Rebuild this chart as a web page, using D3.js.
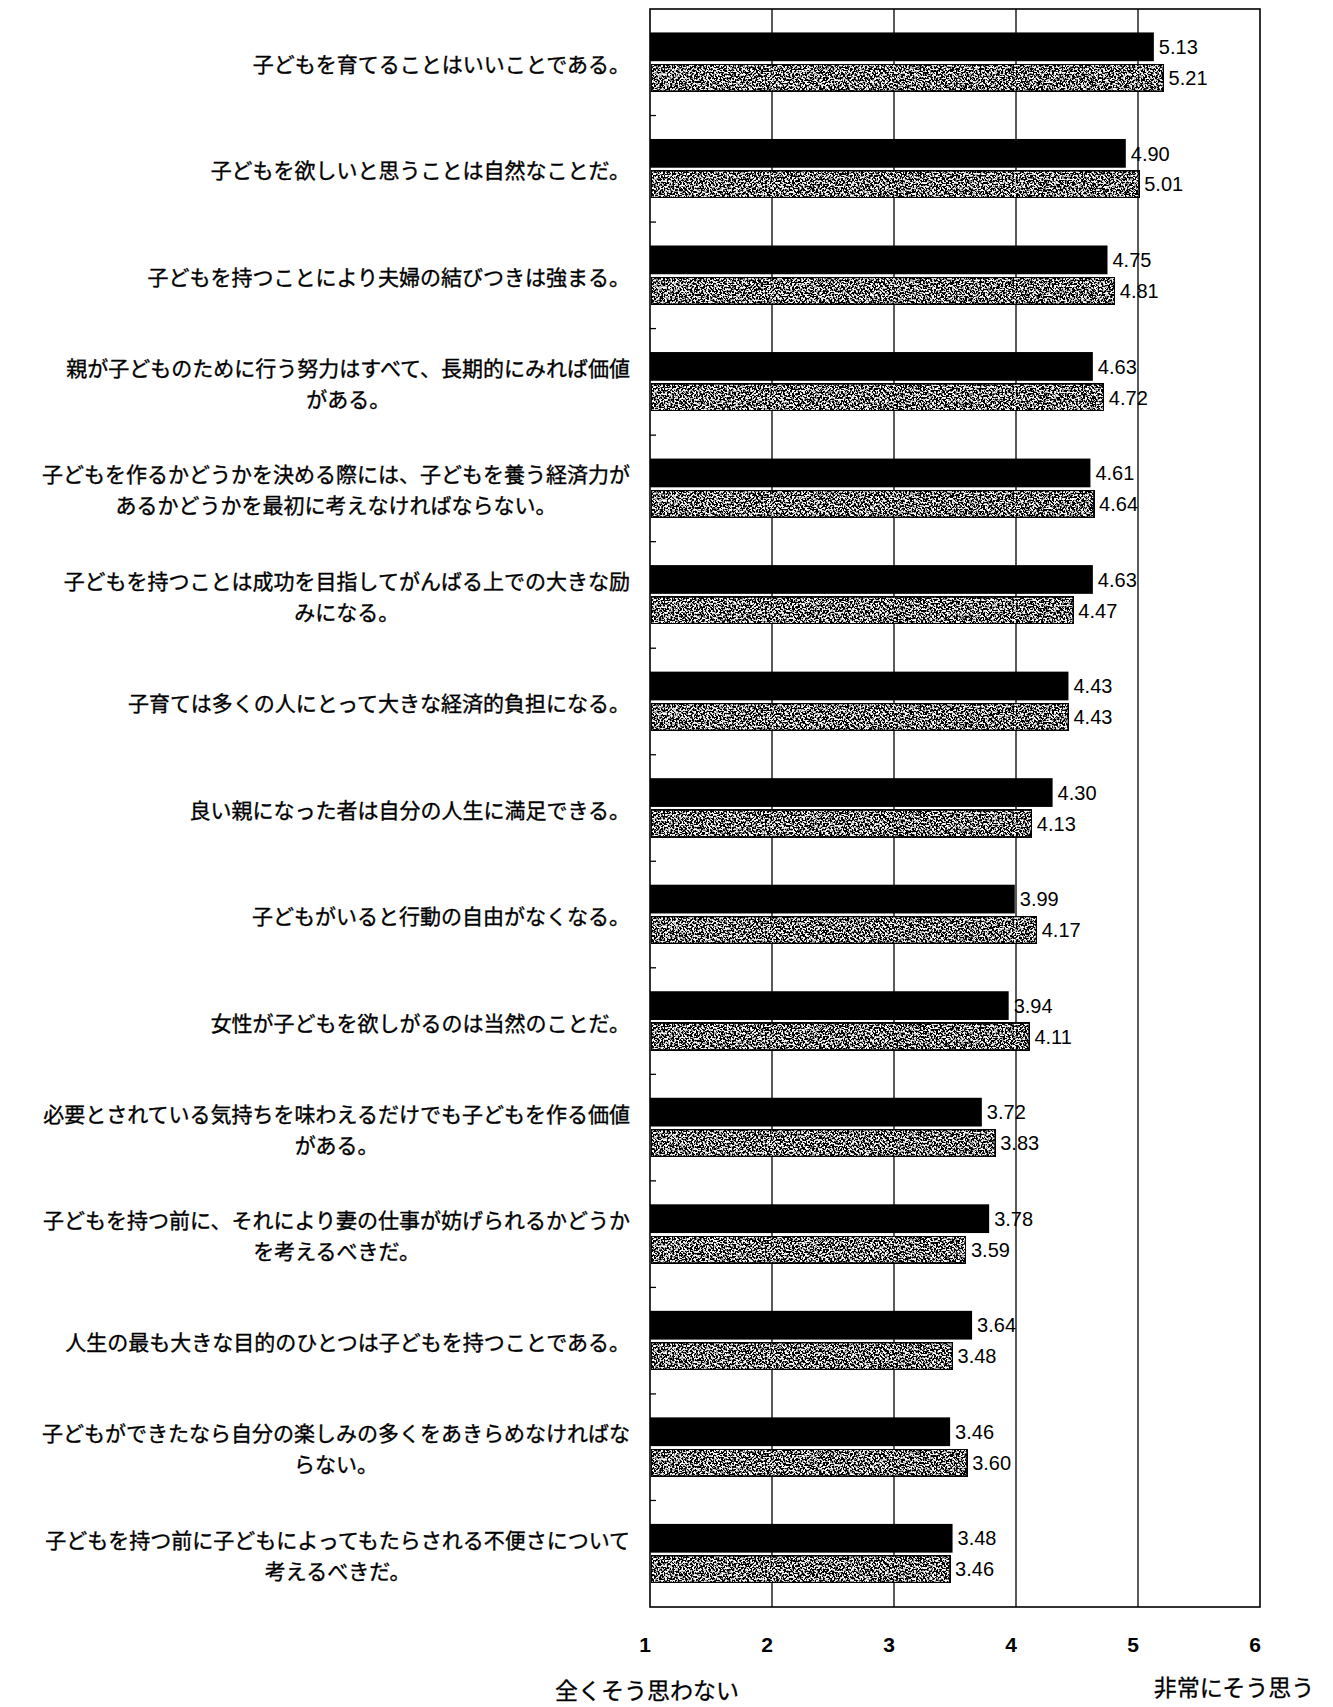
<!DOCTYPE html>
<html>
<head>
<meta charset="utf-8">
<script src="https://cdn.jsdelivr.net/npm/d3@7"></script>
<style>
  body { margin: 0; background: #fff; }
  svg { display: block; }
</style>
</head>
<body>
<div id="chart-area"></div>
<script>
// question texts (\n = line break as in the original)
var questions = [
  "子どもを育てることはいいことである。",
  "子どもを欲しいと思うことは自然なことだ。",
  "子どもを持つことにより夫婦の結びつきは強まる。",
  "親が子どものために行う努力はすべて、長期的にみれば価値\nがある。",
  "子どもを作るかどうかを決める際には、子どもを養う経済力が\nあるかどうかを最初に考えなければならない。",
  "子どもを持つことは成功を目指してがんばる上での大きな励\nみになる。",
  "子育ては多くの人にとって大きな経済的負担になる。",
  "良い親になった者は自分の人生に満足できる。",
  "子どもがいると行動の自由がなくなる。",
  "女性が子どもを欲しがるのは当然のことだ。",
  "必要とされている気持ちを味わえるだけでも子どもを作る価値\nがある。",
  "子どもを持つ前に、それにより妻の仕事が妨げられるかどうか\nを考えるべきだ。",
  "人生の最も大きな目的のひとつは子どもを持つことである。",
  "子どもができたなら自分の楽しみの多くをあきらめなければな\nらない。",
  "子どもを持つ前に子どもによってもたらされる不便さについて\n考えるべきだ。"
];
var seriesA = [5.13, 4.90, 4.75, 4.63, 4.61, 4.63, 4.43, 4.30, 3.99, 3.94, 3.72, 3.78, 3.64, 3.46, 3.48];
var seriesB = [5.21, 5.01, 4.81, 4.72, 4.64, 4.47, 4.43, 4.13, 4.17, 4.11, 3.83, 3.59, 3.48, 3.60, 3.46];
var seriesKeys = ["a", "b"];
var ticks = [1, 2, 3, 4, 5, 6];
var leftTitle = "全くそう思わない";
var rightTitle = "非常にそう思う";

var W = 1333, H = 1707;
var plotL = 650, plotR = 1260, plotT = 9, plotB = 1607;

var svg = d3.select("#chart-area").append("svg")
    .attr("width", W)
    .attr("height", H);

// speckled fill for the second series
var defs = svg.append("defs");
var f = defs.append("filter").attr("id", "speckle")
    .attr("x", 0).attr("y", 0).attr("width", 1).attr("height", 1);
f.append("feTurbulence").attr("type", "fractalNoise")
    .attr("baseFrequency", 0.55).attr("numOctaves", 2).attr("seed", 7).attr("result", "n");
f.append("feColorMatrix").attr("in", "n").attr("type", "matrix")
    .attr("values", "0 0 0 0 0  0 0 0 0 0  0 0 0 0 0  7 0 0 0 -2.7").attr("result", "dots");
f.append("feComposite").attr("in", "dots").attr("in2", "SourceGraphic")
    .attr("operator", "in").attr("result", "clipped");
var m = f.append("feMerge");
m.append("feMergeNode").attr("in", "SourceGraphic");
m.append("feMergeNode").attr("in", "clipped");

var data = questions.map(function(q, i) {
    return {q: q, a: seriesA[i], b: seriesB[i]};
});

var x = d3.scaleLinear().domain([1, 6]).range([plotL, plotR]);
var y = d3.scaleBand().domain(d3.range(questions.length))
    .range([plotT, plotB]).paddingInner(0.44).paddingOuter(0.22);
var y1 = d3.scaleBand().domain(seriesKeys).range([0, y.bandwidth()]).paddingInner(0.07);

// vertical gridlines
svg.append("g").selectAll("line")
    .data(ticks.slice(1, -1))
    .enter().append("line")
    .attr("x1", d => x(d)).attr("x2", d => x(d))
    .attr("y1", plotT).attr("y2", plotB)
    .attr("stroke", "#000").attr("stroke-width", 1.3);

// frame
svg.append("rect")
    .attr("x", plotL).attr("y", plotT)
    .attr("width", plotR - plotL).attr("height", plotB - plotT)
    .attr("fill", "none").attr("stroke", "#000").attr("stroke-width", 1.6);

// small ticks on the category axis
var step = y.step();
svg.append("g").selectAll("line")
    .data(d3.range(1, questions.length))
    .enter().append("line")
    .attr("x1", plotL).attr("x2", plotL + 6)
    .attr("y1", d => plotT + d * step).attr("y2", d => plotT + d * step)
    .attr("stroke", "#000").attr("stroke-width", 1.3);

var groups = svg.append("g").selectAll("g")
    .data(data)
    .enter().append("g")
    .attr("transform", (d, i) => "translate(0," + y(i) + ")");

groups.append("rect")
    .attr("x", x(1))
    .attr("y", y1("a"))
    .attr("width", d => x(d.a) - x(1))
    .attr("height", y1.bandwidth())
    .attr("fill", "#000");

groups.append("rect")
    .attr("x", x(1) + 1)
    .attr("y", y1("b") + 0.8)
    .attr("width", d => x(d.b) - x(1) - 1)
    .attr("height", y1.bandwidth() - 1.6)
    .attr("fill", "#fff")
    .attr("stroke", "#000").attr("stroke-width", 1.8)
    .attr("filter", "url(#speckle)");

var valFont = "'Liberation Sans', Arial, sans-serif";
groups.append("text")
    .attr("x", d => x(d.a) + 5)
    .attr("y", y1("a") + y1.bandwidth() / 2)
    .attr("dy", "0.36em")
    .attr("font-family", valFont).attr("font-size", "20px")
    .text(d => d.a.toFixed(2));

groups.append("text")
    .attr("x", d => x(d.b) + 5)
    .attr("y", y1("b") + y1.bandwidth() / 2)
    .attr("dy", "0.36em")
    .attr("font-family", valFont).attr("font-size", "20px")
    .text(d => d.b.toFixed(2));

// question labels: block right aligned, lines centered inside the block
var labelRight = 630, lineH = 31;
groups.each(function(d) {
    var lines = d.q.split("\n");
    var g = d3.select(this).append("g");
    var cy = y.bandwidth() / 2 + 2;
    var ts = g.selectAll("text").data(lines).enter().append("text")
        .attr("y", (l, k) => cy + (k - (lines.length - 1) / 2) * lineH)
        .attr("dy", "0.36em")
        .attr("font-family", "'Noto Sans CJK JP', sans-serif")
        .attr("font-size", "21px")
        .attr("fill", "#000")
        .attr("stroke", "#000").attr("stroke-width", 0.35)
        .text(l => l);
    var wmax = 0;
    ts.each(function() { wmax = Math.max(wmax, this.getComputedTextLength()); });
    ts.attr("text-anchor", "middle").attr("x", labelRight - wmax / 2);
});

// x tick labels
svg.append("g").selectAll("text")
    .data(ticks)
    .enter().append("text")
    .attr("x", d => x(d) - 5)
    .attr("y", 1652)
    .attr("text-anchor", "middle")
    .attr("font-family", valFont).attr("font-size", "21px").attr("font-weight", "bold")
    .text(d => d);

svg.append("text")
    .attr("x", x(1) - 3).attr("y", 1699)
    .attr("text-anchor", "middle")
    .attr("font-family", "'Noto Sans CJK JP', sans-serif").attr("font-size", "23px")
    .attr("stroke", "#000").attr("stroke-width", 0.3)
    .text(leftTitle);

svg.append("text")
    .attr("x", 1234).attr("y", 1696)
    .attr("text-anchor", "middle")
    .attr("font-family", "'Noto Sans CJK JP', sans-serif").attr("font-size", "23px")
    .attr("stroke", "#000").attr("stroke-width", 0.3)
    .text(rightTitle);
</script>
</body>
</html>
